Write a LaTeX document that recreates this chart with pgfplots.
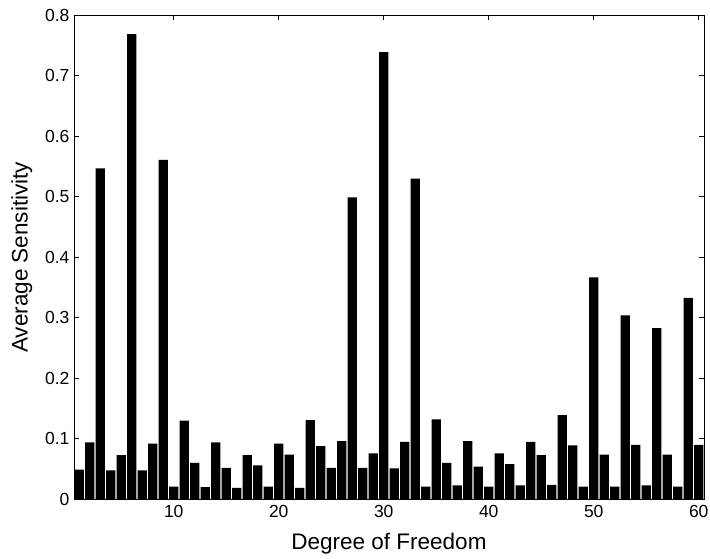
\documentclass[border=0pt]{standalone}
\usepackage{pgfplots}
\pgfplotsset{compat=1.18}
\usepackage{pgfplotstable}
\usepackage{fontspec}
\setmainfont{Liberation Sans}
\pgfplotstableread{
x y
1 0.049
2 0.094
3 0.547
4 0.048
5 0.073
6 0.769
7 0.048
8 0.092
9 0.561
10 0.021
11 0.130
12 0.060
13 0.020
14 0.094
15 0.052
16 0.019
17 0.073
18 0.056
19 0.021
20 0.092
21 0.074
22 0.019
23 0.131
24 0.088
25 0.052
26 0.096
27 0.499
28 0.052
29 0.076
30 0.739
31 0.051
32 0.095
33 0.530
34 0.021
35 0.132
36 0.060
37 0.023
38 0.096
39 0.054
40 0.021
41 0.076
42 0.058
43 0.023
44 0.095
45 0.073
46 0.024
47 0.139
48 0.089
49 0.021
50 0.367
51 0.074
52 0.021
53 0.304
54 0.090
55 0.023
56 0.283
57 0.074
58 0.021
59 0.333
60 0.090
}\datatable
\begin{document}
\begin{tikzpicture}
\useasboundingbox (0,0) rectangle (710pt,559pt);
\begin{axis}[
  at={(74pt,59.7pt)}, anchor=south west,
  scale only axis, width=630pt, height=484pt,
  xmin=0.5, xmax=60.5, ymin=0, ymax=0.8,
  xtick={10,20,...,60},
  ytick={0,0.1,...,0.8},
  yticklabels={0,0.1,0.2,0.3,0.4,0.5,0.6,0.7,0.8},
  tick align=inside,
  major tick length=5pt,
  axis line style={line width=0.8pt},
  every tick/.style={black, line width=0.6pt},
  ticklabel style={font=\fontsize{17.5}{20}\selectfont},
  /pgf/number format/assume math mode=true,
  xticklabel style={yshift=-2pt},
  yticklabel style={xshift=-1pt},
  xlabel={Degree of Freedom},
  ylabel={Average Sensitivity},
  label style={font=\fontsize{22.5}{26}\selectfont},
  xlabel style={yshift=-9pt},
  ylabel style={yshift=6pt},
]
\addplot[ybar, bar width=0.89, fill=black, draw=none] table[x=x,y=y] {\datatable};
\end{axis}
\end{tikzpicture}
\end{document}
